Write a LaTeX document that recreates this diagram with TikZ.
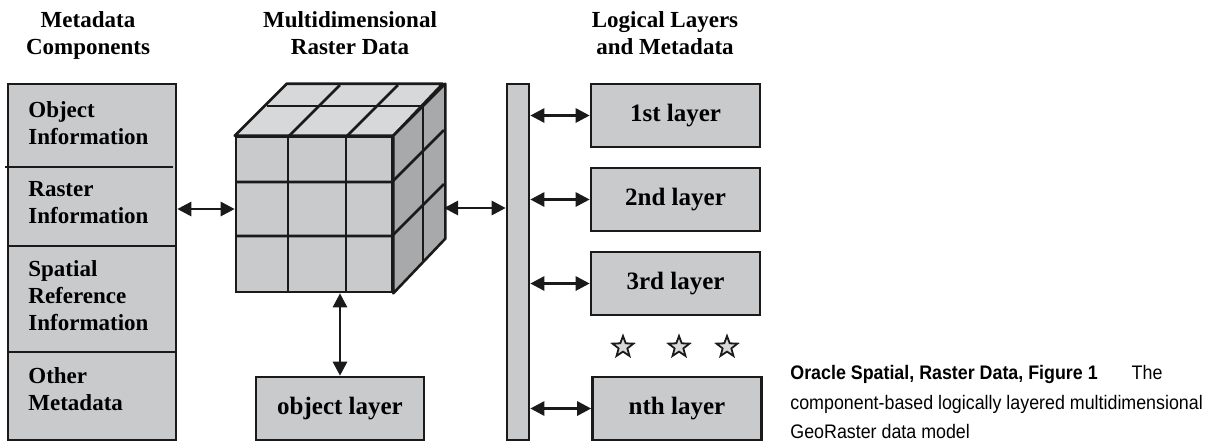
\documentclass[tikz,border=0pt]{standalone}
\usepackage{fontspec}
\setmainfont{Liberation Serif}
\newfontfamily\capfont[FakeStretch=0.91]{Liberation Sans}
\usetikzlibrary{arrows.meta, shapes.geometric}
\definecolor{boxgray}{HTML}{C9CACC}
\definecolor{topgray}{HTML}{D7D8DA}
\definecolor{sidegray}{HTML}{A8A9AB}
\definecolor{edge}{HTML}{1A1A1A}
\tikzset{
  box/.style={draw=edge, fill=boxgray, line width=1.3pt, inner sep=0pt},
  layerbox/.style={box, minimum width=84.5pt, minimum height=31.5pt, font=\fontsize{12.5}{15}\selectfont\bfseries},
  head/.style={anchor=north, align=center, inner sep=0pt, font=\fontsize{11.5}{13.5}\selectfont\bfseries},
  metatext/.style={anchor=north west, align=left, inner sep=0pt, font=\fontsize{11.5}{13.5}\selectfont\bfseries},
  grid/.style={draw=edge, line width=1.3pt, line join=round},
  link/.style={<->, draw=edge, line width=1.4pt},
  dots/.style={star, star points=5, star point ratio=2.4, draw=edge, fill=topgray, line width=0.9pt, minimum size=11pt, inner sep=0pt},
}

\begin{document}
\begin{tikzpicture}[x=0.5pt, y=-0.5pt, >={Triangle[length=7pt, width=7pt]}]
  \useasboundingbox (0,0) rectangle (1214,441);

  % headings
  \node[head] (hmeta) at (88,11) {Metadata\\Components};
  \node[head] (hraster) at (350,11) {Multidimensional\\Raster Data};
  \node[head] (hlayers) at (665,11) {Logical Layers\\and Metadata};

  % metadata components
  \node[box, minimum width=84pt, minimum height=178pt] (meta) at (92,262) {};
  \draw[grid] (5,167) -- (173,167);
  \draw[grid] (8,246) -- (176,246);
  \draw[grid] (8,352) -- (176,352);
  \node[metatext] (tobj) at (28,101) {Object\\Information};
  \node[metatext] (tras) at (28,181) {Raster\\Information};
  \node[metatext] (tspa) at (28,260) {Spatial\\Reference\\Information};
  \node[metatext] (toth) at (28,367) {Other\\Metadata};

  % raster cube
  \node[box, minimum width=78pt, minimum height=77.5pt] (front) at (314,214.5) {};
  \filldraw[grid, fill=topgray] (front.north west) -- ++(52,-52) -- ++(156,0) -- (front.north east) -- cycle;
  \filldraw[grid, fill=sidegray] (front.north east) -- ++(52,-52) -- ++(0,155) -- (front.south east) -- cycle;
  \foreach \gx in {288,346} {
    \draw[grid] (\gx,137) -- (\gx,292);
    \draw[grid] (\gx,137) -- ++(52,-52);
  }
  \foreach \gy in {182,236}
    \draw[grid] (236,\gy) -- (392,\gy) -- ++(52,-52);
  \draw[grid] (267,106) -- (423,106) -- (423,261);
  \coordinate (cubeside) at (444,208);
  \coordinate (fw) at ([yshift=2.75pt]front.west);

  % bus and layers
  \node[box, minimum width=11pt, minimum height=178pt] (bus) at (518,262) {};
  \node[layerbox] (l1) at (675.5,115.5) {1st layer};
  \node[layerbox] (l2) at (675.5,199.5) {2nd layer};
  \node[layerbox] (l3) at (675.5,283.5) {3rd layer};
  \node[layerbox] (ln) at (677,408.5) {nth layer};
  \node[layerbox, minimum width=84pt] (objl) at (340,408.5) {object layer};
  \foreach \sx [count=\k] in {623,679,727}
    \node[dots] (star\k) at (\sx,347) {};

  % links
  \draw[link] (fw -| meta.east) -- (fw);
  \draw[link] (objl.north) -- (objl.north |- front.south);
  \draw[link] (cubeside) -- (cubeside -| bus.west);
  \foreach \l in {l1,l2,l3,ln}
    \draw[link] (\l.west -| bus.east) -- (\l.west);

  % caption
  \node[anchor=north west, inner sep=0pt, align=left, font=\capfont\fontsize{9.8}{14.8}\selectfont] (caption) at (790,365)
    {\textbf{Oracle Spatial, Raster Data, Figure 1}\hspace{17pt}The\\component-based logically layered multidimensional\\GeoRaster data model};
\end{tikzpicture}
\end{document}
